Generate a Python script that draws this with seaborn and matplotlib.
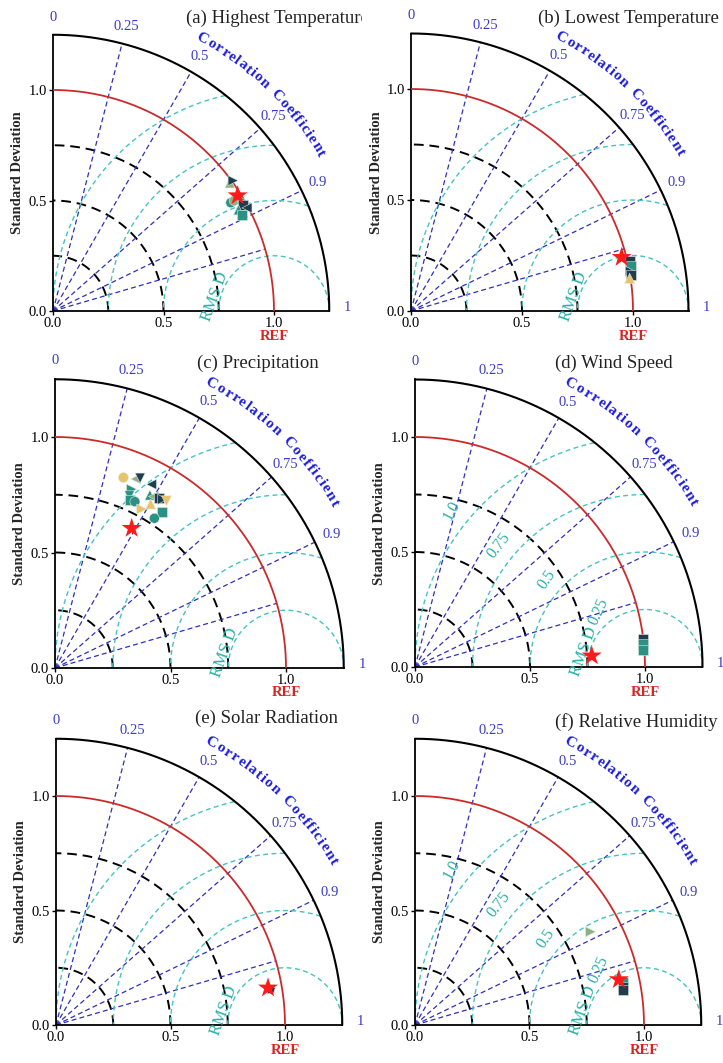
import numpy as np
import pandas as pd
import matplotlib
matplotlib.use("Agg")
import matplotlib.pyplot as plt
import seaborn as sns
from matplotlib.font_manager import FontProperties
from matplotlib.textpath import TextToPath

sns.set_style("white")
plt.rcParams["font.family"] = ["Liberation Serif", "DejaVu Serif"]

# ---------------- data ----------------
TITLES = ["(a) Highest Temperature", "(b) Lowest Temperature", "(c) Precipitation",
          "(d) Wind Speed", "(e) Solar Radiation", "(f) Relative Humidity"]
STD_TICKS = [0.0, 0.5, 1.0]
CORR_TICKS = [0, 0.25, 0.5, 0.75, 0.9, 1]
CORR_LINES = [0.25, 0.5, 0.75, 0.9, 0.96]
STD_ARCS = [0.25, 0.5, 0.75]
RMS_LEVELS = [0.25, 0.5, 0.75, 1.0]
RMS_LABELS = ["0.25", "0.5", "0.75", "1.0"]

# red star (per panel): normalised std and correlation
STAR_STD = [0.985, 0.979, 0.690, 0.770, 0.940, 0.912]
STAR_CORR = [0.848, 0.969, 0.481, 0.998, 0.985, 0.976]

COLORS = {"N": "#1f3d4f", "T": "#2a9184", "G": "#8fb082", "Y": "#e8c36a"}

A_STD = [0.988, 1.006, 0.942, 0.960, 0.986, 0.985, 0.956, 0.959, 0.994]
A_CORR = [0.810, 0.810, 0.854, 0.854, 0.868, 0.873, 0.878, 0.891, 0.883]
A_COLOR = ["G", "N", "T", "G", "T", "N", "T", "T", "N"]
A_MARK = ["^", ">", "o", "o", "p", "s", "^", "s", "<"]

B_STD = [1.010, 1.010, 1.004, 1.003, 0.996]
B_CORR = [0.975, 0.980, 0.984, 0.987, 0.989]
B_COLOR = ["N", "T", "N", "N", "Y"]
B_MARK = ["s", "s", ">", "s", "^"]

C_STD = [0.876, 0.890, 0.901, 0.898, 0.842, 0.812, 0.797, 0.799, 0.854,
         0.856, 0.863, 0.866, 0.870, 0.822, 0.784, 0.820, 0.778]
C_CORR = [0.338, 0.393, 0.409, 0.465, 0.394, 0.397, 0.410, 0.433, 0.481,
          0.498, 0.524, 0.538, 0.555, 0.504, 0.479, 0.564, 0.553]
C_COLOR = ["Y", "G", "N", "N", "T", "T", "T", "T", "T", "G", "N", "N", "Y", "Y", "Y", "T", "T"]
C_MARK = ["o", "<", "v", "<", ">", "v", "s", "o", "^", "<", "s", ">", "v", "^", ">", "s", "o"]

D_STD = [1.000, 0.998, 0.996]
D_CORR = [0.9928, 0.9950, 0.9972]
D_COLOR = ["N", "T", "T"]
D_MARK = ["s", "s", "s"]

E_STD = [0.948]
E_CORR = [0.9865]
E_COLOR = ["N"]
E_MARK = ["p"]

F_STD = [0.927, 0.922, 0.920, 0.868]
F_CORR = [0.9788, 0.9838, 0.9861, 0.8833]
F_COLOR = ["T", "N", "N", "G"]
F_MARK = ["s", "s", "s", ">"]

PANELS = [(A_STD, A_CORR, A_COLOR, A_MARK), (B_STD, B_CORR, B_COLOR, B_MARK),
          (C_STD, C_CORR, C_COLOR, C_MARK), (D_STD, D_CORR, D_COLOR, D_MARK),
          (E_STD, E_CORR, E_COLOR, E_MARK), (F_STD, F_CORR, F_COLOR, F_MARK)]

# ---------------- layout ----------------
W, H = 723, 1063
RMAX = 1.25
PIX = [(53, 311, 221), (411, 311, 222), (55, 668, 231),
       (415, 667, 230), (56, 1025, 229), (415, 1025, 229)]
TITLE_POS = [(186, 18), (538, 18), (197, 363), (555, 363), (195, 718), (555, 722)]
TITLE_CLIP = [362, 723, 362, 723, 362, 723]
SHOW_RMS_LABELS = [False, False, False, True, False, True]
RMS_LABEL_POS = [(0.800, 0.240, 65), (0.572, 0.378, 55), (0.365, 0.527, 52), (0.161, 0.680, 62)]

BLUE_LINE = "#2f2fbf"
BLUE_TXT = "#3a3ad0"
BLUE_BOLD = "#1c1ce0"
CYAN = "#45c2c2"
CYAN_TXT = "#26b0a8"
RED = "#cc2a2a"

fig = plt.figure(figsize=(W / 100, H / 100), dpi=100)

ttp = TextToPath()
fp_cc = FontProperties(family="Liberation Serif", weight="bold", size=11)


def curved_text(ax, text, r, a0, a1, color, fp):
    widths = []
    for ch in text:
        w = ttp.get_text_width_height_descent(ch, fp, ismath=False)[0]
        if ch == " " or w <= 0:
            w = 0.3 * fp.get_size_in_points()
        widths.append(w)
    widths = np.array(widths)
    total = widths.sum()
    cum = np.cumsum(widths) - widths / 2
    span = a0 - a1
    for ch, c in zip(text, cum):
        ang = np.radians(a0 - c / total * span)
        ax.text(r * np.cos(ang), r * np.sin(ang), ch, rotation=np.degrees(ang) - 90,
                ha="center", va="center", rotation_mode="anchor", color=color,
                fontproperties=fp, clip_on=False)


th = np.linspace(0, np.pi / 2, 400)
for i in range(6):
    ox, oy, s = PIX[i]
    ax = fig.add_axes([ox / W, (H - oy) / H, RMAX * s / W, RMAX * s / H])

    # model points
    std, corr, col, mk = PANELS[i]
    std = np.array(std)
    corr = np.array(corr)
    df = pd.DataFrame({"x": std * corr, "y": std * np.sqrt(1 - corr ** 2),
                       "c": col, "m": mk})
    sns.scatterplot(data=df, x="x", y="y", hue="c", style="m", palette=COLORS,
                    markers={m: m for m in set(mk)}, s=52, edgecolor="#dfe8e0",
                    linewidth=0.4, legend=False, ax=ax, zorder=6, clip_on=False)
    sx = STAR_STD[i] * STAR_CORR[i]
    sy = STAR_STD[i] * np.sqrt(1 - STAR_CORR[i] ** 2)
    sns.scatterplot(x=[sx], y=[sy], marker="*", color="#ff1a1a", s=230,
                    edgecolor="none", ax=ax, zorder=7, legend=False, clip_on=False)

    ax.set_xlim(0, RMAX)
    ax.set_ylim(0, RMAX)
    for sp in ["top", "right"]:
        ax.spines[sp].set_visible(False)
    for sp in ["left", "bottom"]:
        ax.spines[sp].set_linewidth(1.3)
        ax.spines[sp].set_color("black")
    ax.set_xticks(STD_TICKS)
    ax.set_yticks(STD_TICKS)
    ax.set_xticklabels([f"{v:.1f}" for v in STD_TICKS])
    ax.set_yticklabels([f"{v:.1f}" for v in STD_TICKS])
    ax.tick_params(length=3, width=1, direction="out", labelsize=10.5, pad=1.5,
                   colors="black", bottom=True, left=True)
    ax.set_xlabel("")
    ax.set_ylabel("Standard Deviation", fontsize=10.5, fontweight="bold", va="center")
    ax.yaxis.set_label_coords(-35 / (RMAX * s), 0.5)
    ax.grid(False)

    # outer arc & reference arc
    ax.plot(RMAX * np.cos(th), RMAX * np.sin(th), color="black", lw=1.5, clip_on=False, zorder=3)
    ax.plot(np.cos(th), np.sin(th), color=RED, lw=1.3, zorder=3)
    for r in STD_ARCS:
        ax.plot(r * np.cos(th), r * np.sin(th), color="black", lw=1.4, ls=(0, (5, 3)), zorder=2)
    for c in CORR_LINES:
        a = np.arccos(c)
        rr = RMAX if c < 0.95 else 1.0
        ax.plot([0, rr * np.cos(a)], [0, rr * np.sin(a)], color=BLUE_LINE, lw=0.9,
                ls=(0, (4, 2.5)), zorder=2)
    for r in RMS_LEVELS:
        t = np.linspace(0, np.pi, 800)
        x = 1 + r * np.cos(t)
        y = r * np.sin(t)
        m = (x ** 2 + y ** 2 <= RMAX ** 2 + 1e-9) & (x >= 0)
        ax.plot(x[m], y[m], color=CYAN, lw=1.0, ls=(0, (3.5, 2.5)), zorder=2)

    # correlation labels
    for c in CORR_TICKS:
        a = np.arccos(c)
        ax.text(1.33 * np.cos(a), 1.33 * np.sin(a) + (0.015 if c == 1 else 0), f"{c:g}",
                color=BLUE_TXT, fontsize=10.5, ha="center", va="center", clip_on=False)
    curved_text(ax, "Correlation Coefficient", 1.405, 62.5, 30.0, BLUE_BOLD, fp_cc)

    # REF
    ax.annotate("REF", xy=(1.0, 0), xycoords="data", xytext=(0, -25),
                textcoords="offset pixels", ha="center", va="center", color="#e02020",
                fontsize=10.5, fontweight="bold", annotation_clip=False)

    # RMSD label
    ax.text(0.735, 0.065, "RMS D", rotation=70, color=CYAN_TXT, fontsize=12,
            ha="center", va="center", rotation_mode="anchor", clip_on=False)
    if SHOW_RMS_LABELS[i]:
        for lab, (lx, ly, rot) in zip(RMS_LABELS, RMS_LABEL_POS):
            ax.text(lx, ly, lab, rotation=rot, color=CYAN_TXT, fontsize=11.5,
                    ha="center", va="center", rotation_mode="anchor", clip_on=False)

    tx, ty = TITLE_POS[i]
    t_obj = fig.text(tx / W, 1 - ty / H, TITLES[i], ha="left", va="center", fontsize=13.5,
                     color="#222222")
    clip_rect = matplotlib.patches.Rectangle((0, 0), TITLE_CLIP[i], H, transform=None)
    t_obj.set_clip_path(clip_rect)
    t_obj.set_clip_on(True)

fig.savefig("out.png", dpi=100)
